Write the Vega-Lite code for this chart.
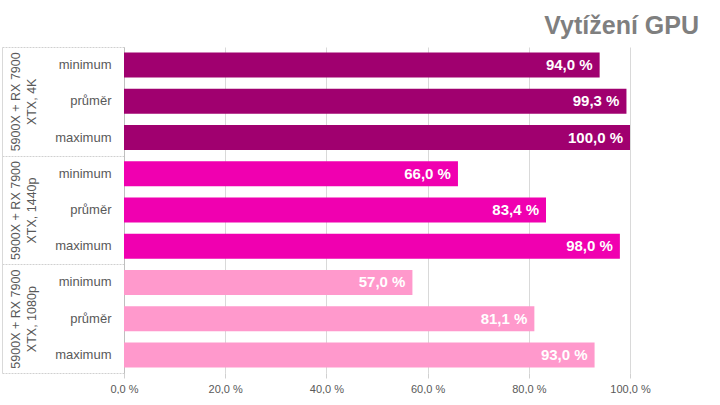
{
  "$schema": "https://vega.github.io/schema/vega-lite/v6.json",
  "width": 506,
  "height": 326,
  "padding": {"left": 1, "top": 13, "right": 69, "bottom": 0},
  "background": "white",
  "title": {
    "text": "Vytížení GPU",
    "anchor": "end",
    "frame": "group",
    "dx": 69,
    "font": "Liberation Sans",
    "fontSize": 25,
    "fontWeight": "bold",
    "color": "#7f7f7f",
    "offset": 8
  },
  "data": {
    "values": [
      {"group": "5900X + RX 7900|XTX, 4K", "stat": "minimum", "key": "4K|minimum", "v": 94.0},
      {"group": "5900X + RX 7900|XTX, 4K", "stat": "průměr", "key": "4K|průměr", "v": 99.3},
      {"group": "5900X + RX 7900|XTX, 4K", "stat": "maximum", "key": "4K|maximum", "v": 100.0},
      {"group": "5900X + RX 7900|XTX, 1440p", "stat": "minimum", "key": "1440p|minimum", "v": 66.0},
      {"group": "5900X + RX 7900|XTX, 1440p", "stat": "průměr", "key": "1440p|průměr", "v": 83.4},
      {"group": "5900X + RX 7900|XTX, 1440p", "stat": "maximum", "key": "1440p|maximum", "v": 98.0},
      {"group": "5900X + RX 7900|XTX, 1080p", "stat": "minimum", "key": "1080p|minimum", "v": 57.0},
      {"group": "5900X + RX 7900|XTX, 1080p", "stat": "průměr", "key": "1080p|průměr", "v": 81.1},
      {"group": "5900X + RX 7900|XTX, 1080p", "stat": "maximum", "key": "1080p|maximum", "v": 93.0}
    ]
  },
  "transform": [
    {"calculate": "replace(format(datum.v, '.1f'), '.', ',') + ' %'", "as": "label"}
  ],
  "layer": [
    {
      "mark": {"type": "bar", "opacity": 0},
      "encoding": {
        "y": {
          "field": "group",
          "type": "nominal",
          "sort": null,
          "scale": {"paddingInner": 0, "paddingOuter": 0},
          "axis": {
            "orient": "left",
            "title": null,
            "offset": 122,
            "domain": true,
            "domainColor": "#d9d9d9",
            "domainWidth": 1,
            "ticks": true,
            "tickBand": "extent",
            "tickSize": -122,
            "tickColor": "#d0d0d0",
            "tickDash": [2, 1],
            "tickWidth": 1,
            "labelAngle": -90,
            "labelAlign": "center",
            "labelBaseline": "top",
            "labelPadding": 115,
            "labelExpr": "datum.value ? split(datum.value, '|') : ''",
            "labelLineHeight": 16,
            "labelFont": "Liberation Sans",
            "labelFontSize": 12.5,
            "labelColor": "#595959",
            "grid": false
          }
        },
        "x": {"field": "v", "type": "quantitative", "scale": {"domain": [0, 100]}}
      }
    },
    {
      "encoding": {
        "y": {
          "field": "key",
          "type": "nominal",
          "sort": null,
          "scale": {"paddingInner": 0.31, "paddingOuter": 0.155},
          "axis": {
            "orient": "left",
            "title": null,
            "domain": true,
            "domainColor": "#bfbfbf",
            "domainWidth": 1,
            "ticks": false,
            "labelPadding": 13,
            "labelExpr": "split(datum.value, '|')[1]",
            "labelFont": "Liberation Sans",
            "labelFontSize": 13,
            "labelColor": "#595959",
            "grid": false
          }
        },
        "x": {
          "field": "v",
          "type": "quantitative",
          "scale": {"domain": [0, 100]},
          "axis": {
            "title": null,
            "values": [0, 20, 40, 60, 80, 100],
            "domain": false,
            "grid": true,
            "gridColor": "#d9d9d9",
            "gridWidth": 1,
            "ticks": true,
            "tickSize": 5,
            "tickColor": "#d0d0d0",
            "labelPadding": 5,
            "labelExpr": "replace(format(datum.value, '.1f'), '.', ',') + ' %'",
            "labelFont": "Liberation Sans",
            "labelFontSize": 11,
            "labelColor": "#595959",
            "labelFlush": false
          }
        }
      },
      "layer": [
        {
          "mark": {"type": "bar"},
          "encoding": {
            "color": {
              "field": "group",
              "type": "nominal",
              "legend": null,
              "scale": {
                "domain": ["5900X + RX 7900|XTX, 4K", "5900X + RX 7900|XTX, 1440p", "5900X + RX 7900|XTX, 1080p"],
                "range": ["#a0006f", "#f000b0", "#ff99cc"]
              }
            }
          }
        },
        {
          "mark": {"type": "text", "align": "right", "dx": -7, "font": "Liberation Sans", "fontSize": 15, "fontWeight": "bold", "color": "white"},
          "encoding": {
            "text": {"field": "label"}
          }
        }
      ]
    }
  ],
  "resolve": {"scale": {"y": "independent"}, "axis": {"y": "independent"}},
  "config": {"view": {"stroke": null}}
}
